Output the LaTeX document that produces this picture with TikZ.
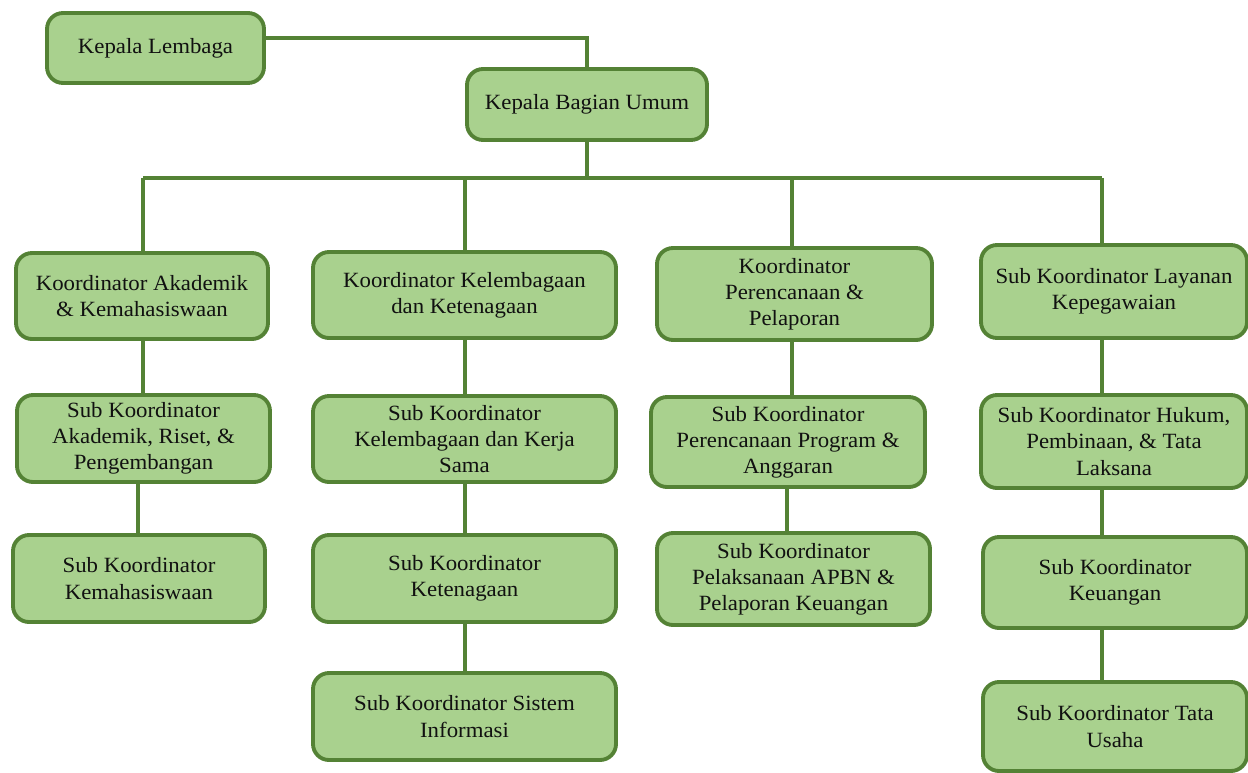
\documentclass[tikz,border=0pt]{standalone}
\usepackage{fontspec}
\setmainfont{Liberation Serif}[FakeStretch=1.05]
\def\u{0.75pt}
\definecolor{boxfill}{HTML}{A9D18E}
\definecolor{boxline}{HTML}{548235}
\definecolor{txt}{HTML}{111111}
\tikzset{
  orgbox/.style={draw=boxline, fill=boxfill, line width=2.9pt, rounded corners=12pt,
    align=center, text=txt, inner sep=0pt, font=\fontsize{16.3}{19.6}\selectfont},
  link/.style={draw=boxline, line width=2.5pt}
}
\newcommand{\bx}[7]{% name, cx, cy, w, h, text
  \node[orgbox, minimum width=#4*\u, minimum height=#5*\u] (#1) at (#2,#3) {#6};}
\begin{document}
\begin{tikzpicture}[x=\u, y=-\u]
\useasboundingbox (0,0) rectangle (1248,772);
% top
\bx{KL}{155.5}{48}{217}{70}{Kepala Lembaga}{}
\bx{KBU}{587}{104.5}{240}{71}{Kepala Bagian Umum}{}
% column 1
\bx{C1}{142}{296}{252}{86}{Koordinator Akademik\\\& Kemahasiswaan}{}
\bx{C1a}{143.5}{438.5}{253}{87}{Sub Koordinator\\Akademik, Riset, \&\\Pengembangan}{}
\bx{C1b}{139}{578.5}{252}{87}{Sub Koordinator\\Kemahasiswaan}{}
% column 2
\bx{C2}{464.5}{295}{303}{86}{Koordinator Kelembagaan\\dan Ketenagaan}{}
\bx{C2a}{464.5}{439}{303}{86}{Sub Koordinator\\Kelembagaan dan Kerja\\Sama}{}
\bx{C2b}{464.5}{578.5}{303}{87}{Sub Koordinator\\Ketenagaan}{}
\bx{C2c}{464.5}{716.5}{303}{87}{Sub Koordinator Sistem\\Informasi}{}
% column 3
\bx{C3}{794.5}{294}{275}{92}{Koordinator\\Perencanaan \&\\Pelaporan}{}
\bx{C3a}{788}{442}{274}{90}{Sub Koordinator\\Perencanaan Program \&\\Anggaran}{}
\bx{C3b}{793.5}{579}{273}{92}{Sub Koordinator\\Pelaksanaan APBN \&\\Pelaporan Keuangan}{}
% column 4
\bx{C4}{1114}{291.5}{266}{93}{Sub Koordinator Layanan\\Kepegawaian}{}
\bx{C4a}{1114}{441.5}{266}{93}{Sub Koordinator Hukum,\\Pembinaan, \& Tata\\Laksana}{}
\bx{C4b}{1115}{582.5}{264}{91}{Sub Koordinator\\Keuangan}{}
\bx{C4c}{1115}{726.5}{264}{89}{Sub Koordinator Tata\\Usaha}{}
% helper coordinates
\coordinate (t1) at (300,38);
\coordinate (b1) at (143,178);
\coordinate (b2) at (465,178);
\coordinate (b3) at (792,178);
\coordinate (b4) at (1102,178);
\coordinate (v1a) at (138,0);
\coordinate (v3a) at (787,0);
% connectors
\draw[link] (KL.east |- t1) -| (KBU.north);
\draw[link] (KBU.south) -- (KBU.south |- b1);
\draw[link] (b1) -- (b4);
\draw[link] (b1) -- (b1 |- C1.north);
\draw[link] (b2) -- (b2 |- C2.north);
\draw[link] (b3) -- (b3 |- C3.north);
\draw[link] (b4) -- (b4 |- C4.north);
\draw[link] (b1 |- C1.south) -- (b1 |- C1a.north);
\draw[link] (v1a |- C1a.south) -- (v1a |- C1b.north);
\draw[link] (b2 |- C2.south) -- (b2 |- C2a.north);
\draw[link] (b2 |- C2a.south) -- (b2 |- C2b.north);
\draw[link] (b2 |- C2b.south) -- (b2 |- C2c.north);
\draw[link] (b3 |- C3.south) -- (b3 |- C3a.north);
\draw[link] (v3a |- C3a.south) -- (v3a |- C3b.north);
\draw[link] (b4 |- C4.south) -- (b4 |- C4a.north);
\draw[link] (b4 |- C4a.south) -- (b4 |- C4b.north);
\draw[link] (b4 |- C4b.south) -- (b4 |- C4c.north);
\end{tikzpicture}
\end{document}
